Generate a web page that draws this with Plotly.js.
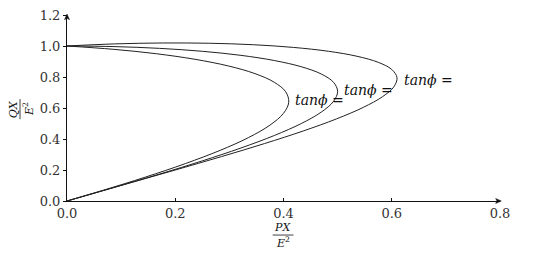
<!DOCTYPE html>
<html>
<head>
<meta charset="utf-8">
<script src="https://cdn.plot.ly/plotly-3.0.1.min.js"></script>
<style>html,body{margin:0;padding:0;background:#fff;}#chart{width:540px;height:256px;}</style>
</head>
<body>
<div id="chart"></div>
<script>
// Curve 1 (nose ≈ 0.41)
const p1 = [0, 0.0853, 0.1649, 0.2366, 0.2980, 0.3473, 0.3830, 0.4041, 0.4097, 0.4000, 0.3750, 0.3357, 0.2830, 0.2187, 0.1448, 0.0634, 0];
const v1 = [1, 0.9788, 0.9501, 0.9141, 0.8713, 0.8218, 0.7660, 0.7045, 0.6374, 0.5657, 0.4896, 0.4098, 0.3268, 0.2413, 0.1541, 0.0656, 0];
// Curve 2 (nose ≈ 0.50)
const p2 = [0, 0.0868, 0.1710, 0.2500, 0.3214, 0.3830, 0.4330, 0.4698, 0.4924, 0.5000, 0.4924, 0.4698, 0.4330, 0.3830, 0.3214, 0.2500, 0.1710, 0.0868, 0];
const v2 = [1, 0.9962, 0.9848, 0.9659, 0.9397, 0.9063, 0.8660, 0.8192, 0.7660, 0.7071, 0.6428, 0.5736, 0.5000, 0.4226, 0.3420, 0.2588, 0.1736, 0.0872, 0];
// Curve 3 (nose ≈ 0.61)
const p3 = [0, 0.0884, 0.1770, 0.2634, 0.3448, 0.4187, 0.4830, 0.5357, 0.5751, 0.6000, 0.6097, 0.6041, 0.5830, 0.5473, 0.4980, 0.4366, 0.3650, 0.2853, 0.2000, 0.1116, 0.0230, 0];
const v3 = [1, 1.0136, 1.0195, 1.0177, 1.0081, 0.9908, 0.9660, 0.9339, 0.8946, 0.8485, 0.7960, 0.7374, 0.6732, 0.6039, 0.5299, 0.4520, 0.3706, 0.2864, 0.2000, 0.1120, 0.0234, 0];

const labelText = ["<i>tanϕ =</i>", "<i>tanϕ =</i>", "<i>tanϕ =</i>"];
const labelX = [0.418, 0.508, 0.619];
const labelY = [0.652, 0.716, 0.780];

const xTicks = [0, 0.2, 0.4, 0.6, 0.8];
const yTicks = [0, 0.2, 0.4, 0.6, 0.8, 1.0, 1.2];

const lineStyle = {color: '#222', width: 1, shape: 'spline', smoothing: 1};
const data = [
  {x: p1, y: v1, mode: 'lines', line: lineStyle, hoverinfo: 'skip'},
  {x: p2, y: v2, mode: 'lines', line: lineStyle, hoverinfo: 'skip'},
  {x: p3, y: v3, mode: 'lines', line: lineStyle, hoverinfo: 'skip'}
];

const serif = 'DejaVu Serif';
const annotations = labelText.map((t, i) => ({
  x: labelX[i], y: labelY[i], xref: 'x', yref: 'y', text: t, showarrow: false,
  xanchor: 'left', yanchor: 'middle', font: {family: serif, size: 14, color: '#111'}
}));
// x title fraction
annotations.push({x: 0.4988, y: -0.143, xref: 'paper', yref: 'paper', text: '<i>PX</i>', showarrow: false,
  xanchor: 'center', yanchor: 'middle', font: {family: serif, size: 11, color: '#111'}});
annotations.push({x: 0.4988, y: -0.222, xref: 'paper', yref: 'paper', text: '<i>E</i><sup>2</sup>', showarrow: false,
  xanchor: 'center', yanchor: 'middle', font: {family: serif, size: 11, color: '#111'}});
// y title fraction
annotations.push({x: -0.124, y: 0.4946, xref: 'paper', yref: 'paper', text: '<i>QX</i>', showarrow: false,
  textangle: -90, xanchor: 'center', yanchor: 'middle', font: {family: serif, size: 11, color: '#111'}});
annotations.push({x: -0.090, y: 0.4946, xref: 'paper', yref: 'paper', text: '<i>E</i><sup>2</sup>', showarrow: false,
  textangle: -90, xanchor: 'center', yanchor: 'middle', font: {family: serif, size: 11, color: '#111'}});

const shapes = [
  {type: 'line', xref: 'paper', yref: 'paper', x0: 0.475, x1: 0.523, y0: -0.183, y1: -0.183, line: {color: '#111', width: 0.8}},
  {type: 'line', xref: 'paper', yref: 'paper', x0: -0.1085, x1: -0.1085, y0: 0.44, y1: 0.548, line: {color: '#111', width: 0.8}},
  // axis arrowheads
  {type: 'path', xref: 'paper', yref: 'paper', path: 'M 1.003 0 L 0.990 0.0134 L 0.993 0 L 0.990 -0.0134 Z', fillcolor: '#111', line: {color: '#111', width: 0.5}},
  {type: 'path', xref: 'paper', yref: 'paper', path: 'M 0 1.005 L 0.0058 0.975 L 0 0.982 L -0.0058 0.975 Z', fillcolor: '#111', line: {color: '#111', width: 0.5}}
];

const layout = {
  width: 540, height: 256,
  margin: {l: 67, r: 40, t: 15, b: 55},
  paper_bgcolor: '#fff', plot_bgcolor: '#fff',
  showlegend: false,
  font: {family: serif, size: 13, color: '#222'},
  xaxis: {range: [0, 0.8], tickvals: xTicks, tickformat: '.1f', showgrid: false, zeroline: false,
    showline: true, linecolor: '#111', linewidth: 1, ticks: 'inside', ticklen: 3, tickcolor: '#111',
    tickfont: {family: serif, size: 13, color: '#333'}, fixedrange: true},
  yaxis: {range: [0, 1.2], tickvals: yTicks, tickformat: '.1f', showgrid: false, zeroline: false,
    showline: true, linecolor: '#111', linewidth: 1, ticks: 'outside', ticklen: 3, tickcolor: '#111',
    tickfont: {family: serif, size: 13, color: '#333'}, fixedrange: true},
  annotations: annotations,
  shapes: shapes
};

Plotly.newPlot('chart', data, layout, {displayModeBar: false, staticPlot: true});
</script>
</body>
</html>
